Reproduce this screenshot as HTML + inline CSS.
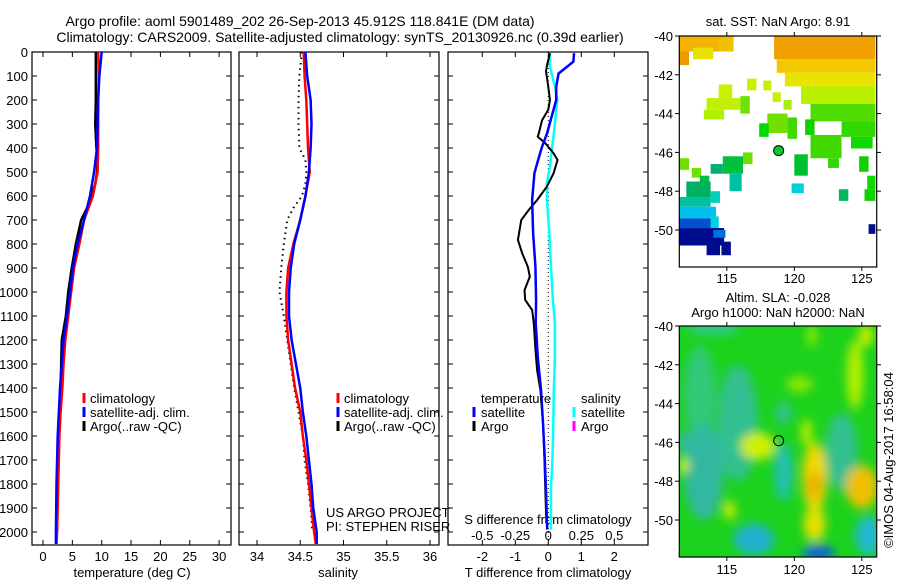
<!DOCTYPE html>
<html><head><meta charset="utf-8">
<style>
body{margin:0;background:#fff;}
svg{display:block;font-family:"Liberation Sans",sans-serif;}
</style></head>
<body>
<svg id="fig" width="900" height="580" viewBox="0 0 900 580" xmlns="http://www.w3.org/2000/svg">
<defs>
<clipPath id="clipT"><rect x="32" y="52" width="199" height="493"/></clipPath>
<clipPath id="clipS"><rect x="239" y="52" width="200" height="493"/></clipPath>
<clipPath id="clipD"><rect x="448" y="52" width="200" height="493"/></clipPath>
<clipPath id="clipM1"><rect x="679" y="36" width="198" height="231"/></clipPath>
<clipPath id="clipM2"><rect x="679" y="326" width="198" height="231"/></clipPath>
<filter id="blur" x="-50%" y="-50%" width="200%" height="200%"><feGaussianBlur stdDeviation="5"/></filter>
</defs>
<text x="300" y="26" font-size="14" text-anchor="middle">Argo profile: aoml 5901489_202 26-Sep-2013 45.912S 118.841E (DM data)</text>
<text x="340" y="42" font-size="14" text-anchor="middle">Climatology: CARS2009. Satellite-adjusted climatology: synTS_20130926.nc (0.39d earlier)</text>
<g id="gT"></g>
<g id="gS"></g>
<g id="gD"></g>
<g id="gM1"></g>
<g id="gM2"></g>
<text transform="translate(893,460) rotate(-90)" font-size="13" text-anchor="middle">©IMOS 04-Aug-2017 16:58:04</text>
</svg>
<script>
// ---- data ----
const tDepth = [0,100,200,300,400,500,600,700,800,900,1000,1100,1200,1300,1400,1500,1600,1700,1800,1900,2000,2050];
const tClim  = [9.4,9.5,9.4,9.4,9.4,9.3,8.5,7.0,6.2,5.3,4.8,4.3,3.8,3.5,3.3,3.0,2.8,2.7,2.6,2.5,2.4,2.3];
const tSat   = [10.0,9.6,9.4,9.3,9.2,8.7,8.0,7.0,5.9,5.1,4.6,4.1,3.5,3.2,2.9,2.7,2.5,2.4,2.3,2.25,2.2,2.2];
const argoDepth = [0,100,200,300,400,450,500,550,600,650,700,800,900,1000,1100,1200,1300,1400,1500,1600,1700,1800,1900,2000];
const tArgo  = [9.0,9.0,9.0,8.9,9.1,9.3,9.2,8.9,8.2,7.5,6.5,5.6,4.9,4.3,3.9,3.2,3.1,3.0,2.9,2.7,2.6,2.5,2.45,2.4];
const sClim  = [34.54,34.55,34.57,34.58,34.59,34.61,34.56,34.50,34.42,34.36,34.34,34.34,34.36,34.40,34.44,34.50,34.53,34.57,34.60,34.63,34.66,34.68];
const sSat   = [34.56,34.58,34.62,34.63,34.62,34.60,34.56,34.50,34.43,34.39,34.37,34.37,34.40,34.45,34.50,34.53,34.57,34.60,34.63,34.65,34.69,34.69];
const sArgo  = [34.52,34.49,34.48,34.48,34.49,34.56,34.57,34.56,34.52,34.42,34.35,34.31,34.28,34.26,34.31,34.35,34.39,34.43,34.48,34.53,34.55,34.59,34.62,34.64];
const dTDepth = [5,40,90,145,200,340,395,465,505,617,755,895,1033,1130,1270,1408,1547,1686,1825,1964,1990];
const dTSat   = [0.78,0.76,0.31,0.24,0.24,-0.04,-0.19,-0.34,-0.42,-0.49,-0.46,-0.39,-0.37,-0.38,-0.32,-0.22,-0.16,-0.11,-0.07,-0.04,-0.03];
const dADepth = [5,50,80,145,200,240,285,340,353,380,422,450,505,560,617,658,700,783,839,895,936,992,1033,1075,1130,1240,1325,1408,1547,1686,1825,1964];
const dTArgo  = [0.05,-0.03,-0.07,0.0,0.05,0.0,-0.19,-0.29,-0.32,-0.09,0.16,0.28,0.16,-0.04,-0.34,-0.59,-0.82,-0.92,-0.79,-0.62,-0.56,-0.72,-0.70,-0.49,-0.44,-0.39,-0.34,-0.24,-0.16,-0.12,-0.09,-0.06];
const dSDepth = [5,60,145,200,340,480,545,617,755,895,1033,1130,1270,1408,1547,1686,1825,1990];
const dSSat   = [0.012,0.012,0.05,0.068,0.042,0.012,-0.01,-0.01,0.008,0.02,0.035,0.05,0.05,0.042,0.038,0.032,0.02,0.02];
const depthTicks = [0,100,200,300,400,500,600,700,800,900,1000,1100,1200,1300,1400,1500,1600,1700,1800,1900,2000];
const tTicks = [0,5,10,15,20,25,30];
const sTicks = [34,34.5,35,35.5,36];
const sTickLabels = ['34','34.5','35','35.5','36'];
const dTTicks = [-2,-1,0,1,2];
const dSTicks = [-0.5,-0.25,0,0.25,0.5];
const lonTicks = [115,120,125];
const latTicks = [-40,-42,-44,-46,-48,-50];
const argoLon = 118.84, argoLat = -45.91;
// SST map patches: [lon0, latTop, lon1, latBottom, colour]
const sstPatches = [
 [111.5,-40,114.5,-40.8,'#f2b400'],[111.5,-40.8,112.2,-41.5,'#f09a00'],[112.5,-40.6,114.0,-41.2,'#e8e000'],[114.4,-40,115.5,-40.8,'#f0c000'],
 [118.5,-40,126,-41.2,'#f0a000'],[118.7,-41.2,126,-41.9,'#f2c800'],[119.3,-41.9,126,-42.6,'#e8e400'],
 [120.5,-42.6,126,-43.5,'#b8f000'],[121.2,-43.5,126,-44.4,'#50dc00'],[123.5,-44.4,126,-45.2,'#30d800'],[124.2,-45.2,125.8,-45.8,'#10d800'],
 [116.5,-42.2,117.2,-42.8,'#c8f000'],[117.7,-42.3,118.3,-42.8,'#c8f000'],[118.4,-42.9,119.0,-43.4,'#c8f000'],[119.2,-43.3,119.8,-43.8,'#a8f000'],
 [113.5,-43.2,116,-43.8,'#c0f000'],[114.4,-42.5,115.4,-43.2,'#c8f000'],[113.3,-43.8,114.8,-44.3,'#b0f000'],[116,-43.1,116.7,-44,'#70e000'],
 [118,-44,119.5,-45,'#70e000'],[117.4,-44.5,118.1,-45.2,'#00d800'],[119.5,-44.2,120.2,-45.3,'#40d800'],[120.8,-44.3,121.5,-45.1,'#10d000'],
 [121.2,-45.1,123.5,-46.3,'#40d800'],[122.5,-46.3,123.3,-46.8,'#30d800'],[124.8,-46.2,125.5,-47,'#10d000'],
 [120,-46.1,121,-47.2,'#00c030'],[116.2,-46,116.9,-46.6,'#70e000'],[114.7,-46.2,116.2,-47.1,'#00c040'],[113.8,-46.6,114.7,-47.1,'#00b070'],
 [115.2,-47.1,116.1,-48.0,'#00c0a0'],[111.5,-46.3,112.2,-46.9,'#70e000'],[112.4,-46.8,113.1,-47.3,'#70e000'],[113.0,-47.2,113.7,-47.8,'#00c040'],
 [112.0,-47.5,113.8,-48.3,'#00b060'],[111.5,-48.3,113.8,-48.8,'#00c0a0'],[113.8,-48.0,114.5,-48.6,'#00d0c0'],[111.5,-48.8,114.2,-49.4,'#00c0f0'],
 [111.5,-49.4,114.0,-49.9,'#0050d0'],[113.8,-49.3,114.4,-50.0,'#00d0e0'],[111.5,-49.9,114.8,-50.8,'#000c90'],[114.0,-50.0,114.9,-50.4,'#0070e0'],
 [113.5,-50.8,114.5,-51.3,'#000c90'],[114.6,-50.6,115.3,-51.3,'#000c90'],[119.8,-47.6,120.7,-48.1,'#00d0d8'],[123.3,-47.9,124.0,-48.5,'#00b858'],
 [125.2,-47.9,126,-48.5,'#10d000'],[125.4,-47.2,126,-47.9,'#10d800'],[125.5,-49.7,126,-50.2,'#001090']
];
// SLA map blobs: [lon, lat, rx(deg), ry(deg), colour]
const slaBlobs = [
 [113,-43.5,1.2,2.5,'#30c878'],[115.8,-45,1.5,3,'#30c090'],[113.3,-47.5,1.5,2.5,'#30b8a0'],[111.8,-46,0.5,0.6,'#30b8a0'],
 [119.2,-44.5,0.5,0.6,'#30c0a0'],[119.2,-47.5,0.7,1.5,'#20c0b0'],[123.5,-46.5,1.2,2,'#30c090'],[117,-51,1.5,0.8,'#20b0d0'],
 [125.5,-50.8,1,1,'#20b8d0'],[121.8,-51.7,1.2,0.4,'#1060e0'],[114,-40.1,2,0.3,'#30c8a0'],
 [117.3,-46.2,1.3,0.7,'#d0f000'],[121.5,-47.8,0.9,1.8,'#f0d800'],[121.5,-48.2,0.6,0.7,'#f0b000'],[121.5,-50.2,0.8,0.9,'#e8e000'],
 [125,-48.3,1.2,1.1,'#f0c000'],[124.5,-42.5,0.6,1.8,'#b8f000'],[125.3,-40.5,0.5,0.6,'#d0f000'],[120.4,-43,1,0.4,'#90e800'],
 [120.9,-45.5,0.4,0.7,'#c0f000'],[115.2,-49.5,0.4,0.5,'#e0f000'],[111.8,-47.2,0.4,0.4,'#d0f000'],[121.3,-40.5,0.3,0.6,'#a0f000']
];
// ---- helpers ----
const NS='http://www.w3.org/2000/svg';
function mk(tag, attrs, parent){const e=document.createElementNS(NS,tag);for(const k in attrs)e.setAttribute(k,attrs[k]);parent.appendChild(e);return e;}
const yD = d => 52 + d*0.24;
const xT = v => 43 + v*5.87;
const xS = v => 257 + (v-34)*86.5;
const xDT = v => 548.3 + v*33;
const xDS = v => 548.3 + v*132;
const xLon = v => 679.3 + (v-111.48)*13.5;
const yLat1 = v => 36 + (-40 - v)*19.4;
const yLat2 = v => 326 + (-40 - v)*19.4;
function linePath(xs, ds, fx){return xs.map((v,i)=>(i?'L':'M')+fx(v)+' '+yD(ds[i])).join('');}
function frame(g,x,w,name){
  const r=mk('rect',{x:x,y:52,width:w,height:493,fill:'none',stroke:'#000','stroke-width':1.2},g);
  
  
  depthTicks.forEach(d=>{
    mk('line',{x1:x,x2:x+5,y1:yD(d),y2:yD(d),stroke:'#000'},g);
    mk('line',{x1:x+w-5,x2:x+w,y1:yD(d),y2:yD(d),stroke:'#000'},g);
  });
}
function legendBar(g,x,y,c){mk('line',{x1:x,x2:x,y1:y-10,y2:y,stroke:c,'stroke-width':3},g);}
function txt(g,x,y,s,size,anchor,name){
  const t=mk('text',{x:x,y:y,'font-size':size,'text-anchor':anchor||'start'},g);
  t.textContent=s;
  
  
  return t;
}
// ---- temperature panel ----
const gT=document.getElementById('gT');
frame(gT,32,199,'temperature-axes');
depthTicks.forEach(d=>{txt(gT,28,yD(d)+5,String(d),13,'end','depth-tick-label');});
tTicks.forEach(v=>{mk('line',{x1:xT(v),x2:xT(v),y1:52,y2:57,stroke:'#000'},gT);mk('line',{x1:xT(v),x2:xT(v),y1:540,y2:545,stroke:'#000'},gT);txt(gT,xT(v),561,String(v),13,'middle','temperature-tick-label');});
txt(gT,132,577,'temperature (deg C)',13,'middle','temperature-axis-title');
const cT=mk('g',{'clip-path':'url(#clipT)'},gT);
let p;
p=mk('path',{d:linePath(tArgo,argoDepth,xT),fill:'none',stroke:'#000','stroke-width':2.5},cT);


p=mk('path',{d:linePath(tClim,tDepth,xT),fill:'none',stroke:'#f00','stroke-width':2.5},cT);


p=mk('path',{d:linePath(tSat,tDepth,xT),fill:'none',stroke:'#00f','stroke-width':2.5},cT);


legendBar(gT,84,403,'#f00');txt(gT,90,403,'climatology',13,'start','legend-climatology');
legendBar(gT,84,417,'#00f');txt(gT,90,417,'satellite-adj. clim.',13,'start','legend-satellite');
legendBar(gT,84,431,'#000');txt(gT,90,431,'Argo(..raw -QC)',13,'start','legend-argo');
// ---- salinity panel ----
const gS=document.getElementById('gS');
frame(gS,239,200,'salinity-axes');
sTicks.forEach((v,i)=>{mk('line',{x1:xS(v),x2:xS(v),y1:52,y2:57,stroke:'#000'},gS);mk('line',{x1:xS(v),x2:xS(v),y1:540,y2:545,stroke:'#000'},gS);txt(gS,xS(v),561,sTickLabels[i],13,'middle','salinity-tick-label');});
txt(gS,338,577,'salinity',13,'middle','salinity-axis-title');
const cS=mk('g',{'clip-path':'url(#clipS)'},gS);
p=mk('path',{d:linePath(sArgo,argoDepth,xS),fill:'none',stroke:'#000','stroke-width':2,'stroke-dasharray':'1.5 4'},cS);


p=mk('path',{d:linePath(sClim,tDepth,xS),fill:'none',stroke:'#f00','stroke-width':2.5},cS);


p=mk('path',{d:linePath(sSat,tDepth,xS),fill:'none',stroke:'#00f','stroke-width':2.5},cS);


legendBar(gS,338,403,'#f00');txt(gS,344,403,'climatology',13,'start','legend-climatology');
legendBar(gS,338,417,'#00f');txt(gS,344,417,'satellite-adj. clim.',13,'start','legend-satellite');
legendBar(gS,338,431,'#000');txt(gS,344,431,'Argo(..raw -QC)',13,'start','legend-argo');
txt(gS,326,517,'US ARGO PROJECT',13,'start','project-label');
txt(gS,326,531,'PI: STEPHEN RISER',13,'start','pi-label');
// ---- difference panel ----
const gD=document.getElementById('gD');
frame(gD,448,200,'difference-axes');
dTTicks.forEach(v=>{mk('line',{x1:xDT(v),x2:xDT(v),y1:52,y2:57,stroke:'#000'},gD);mk('line',{x1:xDT(v),x2:xDT(v),y1:540,y2:545,stroke:'#000'},gD);txt(gD,xDT(v),561,String(v),13,'middle','t-diff-tick-label');});
dSTicks.forEach(v=>{txt(gD,xDS(v),540,String(v),13,'middle','s-diff-tick-label');});
txt(gD,548,524,'S difference from climatology',13,'middle','s-diff-axis-title');
txt(gD,548,577,'T difference from climatology',13,'middle','t-diff-axis-title');
const cD=mk('g',{'clip-path':'url(#clipD)'},gD);
mk('line',{x1:xDT(0),x2:xDT(0),y1:52,y2:545,stroke:'#000','stroke-dasharray':'1 3'},cD);
p=mk('path',{d:linePath(dSSat,dSDepth,xDS),fill:'none',stroke:'#00ffff','stroke-width':2.5},cD);


p=mk('path',{d:linePath(dTArgo,dADepth,xDT),fill:'none',stroke:'#000','stroke-width':2},cD);


p=mk('path',{d:linePath(dTSat,dTDepth,xDT),fill:'none',stroke:'#00f','stroke-width':2.5},cD);


txt(gD,481,403,'temperature',13,'start','legend-temperature-header');
legendBar(gD,474,417,'#00f');txt(gD,481,417,'satellite',13,'start','legend-t-satellite');
legendBar(gD,474,431,'#000');txt(gD,481,431,'Argo',13,'start','legend-t-argo');
txt(gD,581,403,'salinity',13,'start','legend-salinity-header');
legendBar(gD,574,417,'#00ffff');txt(gD,581,417,'satellite',13,'start','legend-s-satellite');
legendBar(gD,574,431,'#ff00ff');txt(gD,581,431,'Argo',13,'start','legend-s-argo');
// ---- maps ----
function mapAxes(g,yTop,yLat,labelY,name){
  const r=mk('rect',{x:679.3,y:yTop,width:197.4,height:231,fill:'none',stroke:'#000','stroke-width':1.2},g);
  
  
  lonTicks.forEach(v=>{mk('line',{x1:xLon(v),x2:xLon(v),y1:yTop-4,y2:yTop,stroke:'#000'},g);mk('line',{x1:xLon(v),x2:xLon(v),y1:yTop+231,y2:yTop+235,stroke:'#000'},g);txt(g,xLon(v),labelY,String(v),13,'middle','longitude-tick-label');});
  latTicks.forEach(v=>{mk('line',{x1:675,x2:679.3,y1:yLat(v),y2:yLat(v),stroke:'#000'},g);mk('line',{x1:876.7,x2:881,y1:yLat(v),y2:yLat(v),stroke:'#000'},g);txt(g,673,yLat(v)+5,String(v),13,'end','latitude-tick-label');});
}
const gM1=document.getElementById('gM1');
txt(gM1,778,26,'sat. SST: NaN Argo: 8.91',13,'middle','sst-map-title');
const c1=mk('g',{'clip-path':'url(#clipM1)'},gM1);
sstPatches.forEach(s=>{
  const r=mk('rect',{x:xLon(s[0]),y:yLat1(s[1]),width:xLon(s[2])-xLon(s[0]),height:yLat1(s[3])-yLat1(s[1]),fill:s[4]},c1);
  
  
});
mapAxes(gM1,36,yLat1,283,'sst-map-axes');
let m=mk('circle',{cx:xLon(argoLon),cy:yLat1(argoLat),r:5,fill:'#10c830',stroke:'#000','stroke-width':1},gM1);


const gM2=document.getElementById('gM2');
txt(gM2,778,302,'Altim. SLA: -0.028',13,'middle','sla-map-title');
txt(gM2,778,317,'Argo h1000: NaN h2000: NaN',13,'middle','sla-map-subtitle');
const c2=mk('g',{'clip-path':'url(#clipM2)'},gM2);
mk('rect',{x:679,y:326,width:198,height:231,fill:'#1cd21c'},c2);
const bg=mk('g',{filter:'url(#blur)'},c2);
slaBlobs.forEach(b=>{
  const e=mk('ellipse',{cx:xLon(b[0]),cy:yLat2(b[1]),rx:b[2]*13.5,ry:b[3]*19.4,fill:b[4]},bg);
  
  
});
mapAxes(gM2,326,yLat2,574,'sla-map-axes');
m=mk('circle',{cx:xLon(argoLon),cy:yLat2(argoLat),r:5,fill:'none',stroke:'#000','stroke-width':1},gM2);


</script>
</body></html>
